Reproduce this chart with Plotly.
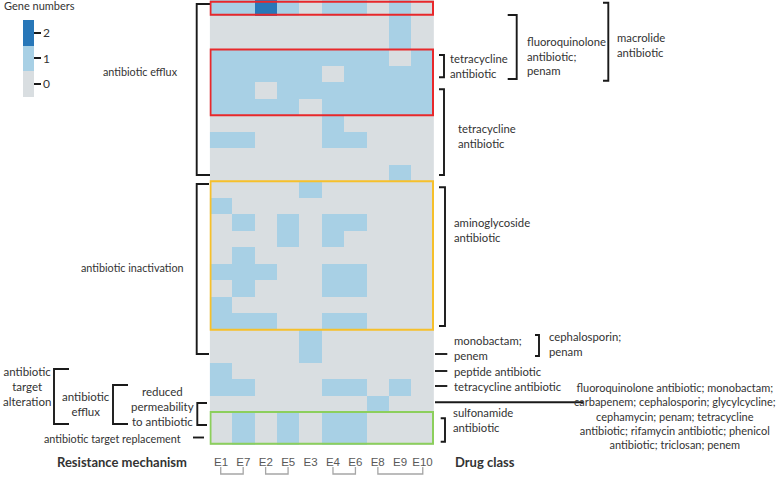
import plotly.graph_objects as go

# ---------------- data ----------------
samples = ["E1", "E7", "E2", "E5", "E3", "E4", "E6", "E8", "E9", "E10"]
# gene counts per sample, rows top -> bottom (27 ARG rows)
E1  = [1,0,0,1,1,1,1,0,1,0,0,0,1,0,0,0,1,0,1,1,0,0,1,1,0,0,0]
E7  = [1,0,0,1,1,1,1,0,1,0,0,0,0,1,0,1,1,1,0,1,0,0,0,1,0,1,1]
E2  = [2,0,0,1,1,0,1,0,0,0,0,0,0,0,0,0,1,0,0,1,0,0,0,0,0,0,0]
E5  = [1,0,0,1,1,1,1,0,0,0,0,0,0,1,1,0,0,0,0,0,0,0,0,0,0,1,1]
E3  = [0,0,0,1,1,1,0,0,0,0,0,1,0,0,0,0,0,0,0,0,1,1,0,0,0,0,0]
E4  = [1,0,0,1,0,1,1,1,1,0,0,0,0,1,1,0,1,1,0,1,0,0,0,1,0,1,1]
E6  = [1,0,0,1,1,1,1,0,1,0,0,0,0,1,0,0,1,1,0,1,0,0,0,1,0,1,1]
E8  = [0,0,0,1,1,1,1,0,0,0,0,0,0,0,0,0,0,0,0,0,0,0,0,0,1,0,0]
E9  = [1,1,1,0,1,1,1,0,0,0,1,0,0,0,0,0,0,0,0,0,0,0,0,1,0,0,0]
E10 = [0,0,0,1,1,1,1,0,0,0,0,0,0,0,0,0,0,0,0,0,0,0,0,0,0,0,0]
columns = [E1, E7, E2, E5, E3, E4, E6, E8, E9, E10]
n_rows = len(E1)
row_ids = list(range(n_rows))
z = [[col[r] for col in columns] for r in row_ids]

count_ticks = [0, 1, 2]
sample_groups = [("E1", "E7"), ("E2", "E5"), ("E4", "E6"), ("E8", "E10")]

# ---------------- layout helpers ----------------
W, H = 777, 478
FONT = "Lato"
TXT = "#333333"
BLK = "#1a1a1a"
PLOT_L, PLOT_R, PLOT_B = 209.5, 434.0, 445.0


def px(x):
    return x / W


def py(y):
    return 1 - y / H


def col_px(i):
    return PLOT_L + (i + 0.5) * (PLOT_R - PLOT_L) / len(samples)


GRAY = "#d9dee1"
LIGHT = "#a8d0e5"
DARK = "#2877b8"
colorscale = [[0, GRAY], [1/3, GRAY], [1/3, LIGHT], [2/3, LIGHT], [2/3, DARK], [1, DARK]]

fig = go.Figure(go.Heatmap(
    z=z, x=samples, y=row_ids,
    zmin=-0.5, zmax=2.5, colorscale=colorscale,
    xgap=0, ygap=0,
    colorbar=dict(
        x=px(23.3), xanchor="left", y=py(58.3), yanchor="middle",
        len=77, lenmode="pixels", thickness=11, thicknessmode="pixels",
        xpad=0, ypad=0, outlinewidth=0,
        tickvals=count_ticks, ticktext=[str(t) for t in count_ticks],
        ticks="outside", ticklen=7, tickwidth=2, tickcolor=BLK,
        tickfont=dict(family=FONT, size=12, color=TXT),
    ),
))

shapes = []


def lbracket(xv, y0, y1, xh, w=1.9):
    shapes.append(dict(type="path", xref="paper", yref="paper",
                       path=f"M {px(xh)},{py(y0)} L {px(xv)},{py(y0)} L {px(xv)},{py(y1)} L {px(xh)},{py(y1)}",
                       line=dict(color=BLK, width=w)))


def hline(x0, x1, y, w=1.9, color=BLK):
    shapes.append(dict(type="line", xref="paper", yref="paper",
                       x0=px(x0), x1=px(x1), y0=py(y), y1=py(y),
                       line=dict(color=color, width=w)))


# left brackets (open to the right)
lbracket(196.7, 4, 175, 210)
lbracket(196.7, 184, 354, 209)
lbracket(54, 369, 424, 69)
lbracket(113, 385, 424, 128)
lbracket(197.3, 403, 425, 207)
hline(193, 204, 437.5)
# right brackets (open to the left)
lbracket(444, 55, 77.3, 439)
lbracket(444, 89.3, 175, 439)
lbracket(516.7, 15, 79, 507.7)
lbracket(608.3, 2.7, 80.7, 603)
lbracket(445, 187.3, 326, 439)
lbracket(539, 335, 356, 535)
lbracket(445, 418.3, 441.7, 440.7)
hline(435, 447.3, 354)
hline(435, 447.3, 371)
hline(435, 447.3, 386)
hline(435, 583.3, 402.3)

# highlight boxes (data coordinates)
boxes = [(-0.4, 0.4, "#e8282b"), (2.5, 6.5, "#e8282b"), (10.5, 19.5, "#f6c02b"), (24.5, 26.42, "#8ccf5c")]
for y0, y1, c in boxes:
    shapes.append(dict(type="rect", xref="x", yref="y", x0=-0.47, x1=len(samples) - 0.53,
                       y0=y0, y1=y1, line=dict(color=c, width=2), fillcolor="rgba(0,0,0,0)"))

# sample grouping brackets under the axis labels
for a, b in sample_groups:
    xa, xb = col_px(samples.index(a)), col_px(samples.index(b))
    shapes.append(dict(type="path", xref="paper", yref="paper",
                       path=f"M {px(xa)},{py(467)} L {px(xa)},{py(474)} L {px(xb)},{py(474)} L {px(xb)},{py(467)}",
                       line=dict(color="#a6a6a6", width=1.3)))

annotations = []


def text(t, x, y, anchor="center", size=11, bold=False):
    if bold:
        t = f"<b>{t}</b>"
    annotations.append(dict(text=t, x=px(x), y=py(y), xref="paper", yref="paper",
                            xanchor=anchor, yanchor="middle", showarrow=False,
                            font=dict(family=FONT, size=size, color=TXT), align=anchor))


text("Gene numbers", 2, 6, "left")
text("antibiotic efflux", 140, 71.7, size=10.8)
text("antibiotic inactivation", 132, 267, size=10.8)
text("antibiotic<br>target<br>alteration", 27, 386, size=11.5)
text("antibiotic<br>efflux", 86, 404.3, size=11.5)
text("reduced<br>permeability<br>to antibiotic", 162, 406, size=11.5)
text("antibiotic target replacement", 112, 438, size=10.8)
text("Resistance mechanism", 122, 461.7, size=13, bold=True)

text("tetracycline<br>antibiotic", 448, 66.3, "left", size=11.3)
text("fluoroquinolone<br>antibiotic;<br>penam", 525.3, 55.6, "left", size=11.3)
text("macrolide<br>antibiotic", 615, 44.5, "left", size=11.3)
text("tetracycline<br>antibiotic", 456, 136.3, "left", size=11.3)
text("aminoglycoside<br>antibiotic", 452.3, 229.7, "left", size=11.3)
text("monobactam;<br>penem", 452.3, 348.3, "left", size=11.3)
text("cephalosporin;<br>penam", 547.3, 343.7, "left", size=11.3)
text("peptide antibiotic", 452, 371, "left", size=11.3)
text("tetracycline antibiotic", 452, 386, "left", size=11.3)
text("fluoroquinolone antibiotic; monobactam;<br>carbapenem; cephalosporin; glycylcycline;<br>"
     "cephamycin; penam; tetracycline<br>antibiotic; rifamycin antibiotic; phenicol<br>"
     "antibiotic; triclosan; penem", 675, 416.3, size=11)
text("sulfonamide<br>antibiotic", 450.7, 420, "left", size=11.3)
text("Drug class", 485, 461.7, size=13, bold=True)

fig.update_layout(
    width=W, height=H,
    margin=dict(l=0, r=0, t=0, b=0, autoexpand=False),
    paper_bgcolor="white", plot_bgcolor="white",
    font=dict(family=FONT, size=11, color=TXT),
    xaxis=dict(domain=[px(PLOT_L), px(PLOT_R)], type="category", categoryorder="array",
               categoryarray=samples, showgrid=False, zeroline=False, showline=False,
               ticks="", ticklabelstandoff=8,
               tickfont=dict(family="Liberation Sans", size=11.5, color="#595959")),
    yaxis=dict(domain=[py(PLOT_B), 1], range=[n_rows - 0.5, -0.5], showgrid=False,
               zeroline=False, showline=False, showticklabels=False, ticks=""),
    shapes=shapes,
    annotations=annotations,
    showlegend=False,
)

fig.write_html("out.html", config={"displayModeBar": False},
               post_script="document.body.style.margin='0';document.body.style.overflow='hidden';")
